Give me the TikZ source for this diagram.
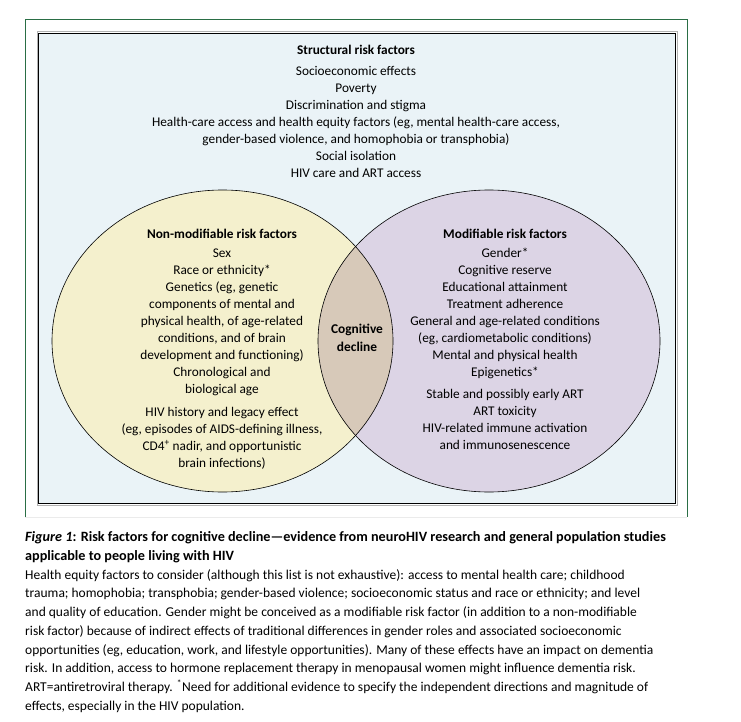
\documentclass[tikz,border=0pt]{standalone}
\usepackage{fontspec}
\setmainfont{Carlito}
\usetikzlibrary{positioning}
\definecolor{framegreen}{HTML}{2A6E45}
\definecolor{boxbg}{HTML}{EAF3F7}
\definecolor{nonmod}{HTML}{F4F0CD}
\definecolor{modif}{HTML}{DCD4E5}
\definecolor{overlap}{HTML}{D7C9B9}

\begin{document}
\begin{tikzpicture}[x=1pt,y=-1pt,font=\fontsize{13.3}{17}\selectfont,
  lst/.style={align=center,inner sep=0pt,anchor=north},
  captxt/.style={align=left,inner sep=0pt,anchor=north west,font=\fontsize{13.5}{18.75}\selectfont}]
\useasboundingbox (0,0) rectangle (741,722);
% frame and box
\draw[framegreen,line width=1pt] (25,517) -- (25,20) -- (687,20) -- (687,517);
\draw[black!8] (25,517) -- (687,517);
\draw[black!30,line width=1pt] (37,32) rectangle (677,505);
\draw[fill=boxbg,line width=0.9pt] (38,33) rectangle (675,503);
% venn
\coordinate (nm) at (222.5,341);
\coordinate (md) at (489,341);
\fill[nonmod] (nm) ellipse [x radius=170.5pt,y radius=151pt];
\fill[modif] (md) ellipse [x radius=171pt,y radius=151pt];
\begin{scope}
\clip (nm) ellipse [x radius=170.5pt,y radius=151pt];
\fill[overlap] (md) ellipse [x radius=171pt,y radius=151pt];
\end{scope}
\draw[line width=0.6pt] (nm) ellipse [x radius=170.5pt,y radius=151pt];
\draw[line width=0.6pt] (md) ellipse [x radius=171pt,y radius=151pt];
% texts
\node[lst] (struct) at (356,45) {\textbf{Structural risk factors}\\[4pt]
  Socioeconomic effects\\ Poverty\\ Discrimination and stigma\\
  Health-care access and health equity factors (eg, mental health-care access,\\
  gender-based violence, and homophobia or transphobia)\\
  Social isolation\\ HIV care and ART access};
\node[lst] (nonmodtxt) at (222,229) {\textbf{Non-modifiable risk factors}\\[2pt]
  Sex\\ Race or ethnicity*\\ Genetics (eg, genetic\\ components of mental and\\
  physical health, of age-related\\ conditions, and of brain\\
  development and functioning)\\ Chronological and\\ biological age\\[6pt]
  HIV history and legacy effect\\ (eg, episodes of AIDS-defining illness,\\
  CD4\textsuperscript{+} nadir, and opportunistic\\ brain infections)};
\node[lst] (modtxt) at (505,229) {\textbf{Modifiable risk factors}\\[2pt]
  Gender*\\ Cognitive reserve\\ Educational attainment\\ Treatment adherence\\
  General and age-related conditions\\ (eg, cardiometabolic conditions)\\
  Mental and physical health\\ Epigenetics*\\[5pt]
  Stable and possibly early ART\\ ART toxicity\\ HIV-related immune activation\\
  and immunosenescence};
\node[lst,font=\fontsize{13.4}{18}\selectfont\bfseries] (decline) at (357,323.5) {Cognitive\\ decline};
% caption
\node[captxt] (caption) at (25,531.5) {{\fontsize{14.2}{18.75}\selectfont\textbf{\textit{Figure 1}: Risk factors for cognitive decline---evidence from neuroHIV research and general population studies}}\\
  {\fontsize{14.2}{18.75}\selectfont\textbf{applicable to people living with HIV}}\\
  Health equity factors to consider (although this list is not exhaustive): access to mental health care; childhood\\
  trauma; homophobia; transphobia; gender-based violence; socioeconomic status and race or ethnicity; and level\\
  and quality of education. Gender might be conceived as a modifiable risk factor (in addition to a non-modifiable\\
  risk factor) because of indirect effects of traditional differences in gender roles and associated socioeconomic\\
  opportunities (eg, education, work, and lifestyle opportunities). Many of these effects have an impact on dementia\\
  risk. In addition, access to hormone replacement therapy in menopausal women might influence dementia risk.\\
  ART=antiretroviral therapy. \textsuperscript{*}Need for additional evidence to specify the independent directions and magnitude of\\
  effects, especially in the HIV population.};
\end{tikzpicture}
\end{document}
